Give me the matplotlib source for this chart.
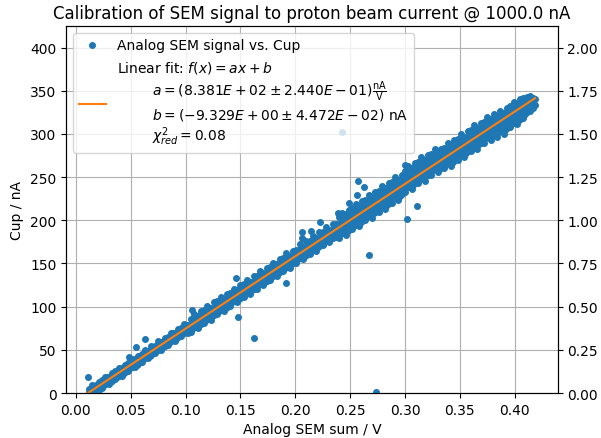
import matplotlib.pyplot as plt
import numpy as np

# ----------------------------------------------------------------------------
# DATA

# SEM signal (V) for each column of the dense band
sem_v = [0.012, 0.015, 0.018, 0.021, 0.024, 0.027, 0.030, 0.033, 0.036, 0.039,
         0.042, 0.045, 0.048, 0.051, 0.054, 0.057, 0.060, 0.063, 0.066, 0.069,
         0.072, 0.075, 0.078, 0.081, 0.084, 0.087, 0.090, 0.093, 0.096, 0.099,
         0.102, 0.105, 0.108, 0.111, 0.114, 0.117, 0.120, 0.123, 0.126, 0.129,
         0.132, 0.135, 0.138, 0.141, 0.144, 0.147, 0.150, 0.153, 0.156, 0.159,
         0.162, 0.165, 0.168, 0.171, 0.174, 0.177, 0.180, 0.183, 0.186, 0.189,
         0.192, 0.195, 0.198, 0.201, 0.204, 0.207, 0.210, 0.213, 0.216, 0.219,
         0.222, 0.225, 0.228, 0.231, 0.234, 0.237, 0.240, 0.243, 0.246, 0.249,
         0.252, 0.255, 0.258, 0.261, 0.264, 0.267, 0.270, 0.273, 0.276, 0.279,
         0.282, 0.285, 0.288, 0.291, 0.294, 0.297, 0.300, 0.303, 0.306, 0.309,
         0.312, 0.315, 0.318, 0.321, 0.324, 0.327, 0.330, 0.333, 0.336, 0.339,
         0.342, 0.345, 0.348, 0.351, 0.354, 0.357, 0.360, 0.363, 0.366, 0.369,
         0.372, 0.375, 0.378, 0.381, 0.384, 0.387, 0.390, 0.393, 0.396, 0.399,
         0.402, 0.405, 0.408, 0.411, 0.414, 0.417]

# Cup current (nA) measured at each of those SEM values
cup_na = [[-2, 1, 5], [0, 5, 9], [0, 5, 9], [4, 9, 13], [6, 11, 15],
          [10, 15, 19], [10, 15, 19], [14, 19, 23], [16, 21, 25], [20, 25, 29],
          [20, 25, 29], [24, 29, 33], [26, 31, 35], [30, 35, 39], [30, 35, 39],
          [34, 39, 43], [36, 41, 45], [40, 45, 50], [40, 45, 49], [44, 50, 54],
          [46, 51, 55], [50, 55, 60], [50, 55, 59], [55, 60, 64], [56, 61, 65],
          [60, 66, 70], [60, 65, 69], [65, 70, 74], [66, 71, 75], [70, 76, 80],
          [70, 75, 79], [71, 78, 86], [76, 83, 91], [75, 81, 89], [80, 87, 95],
          [81, 88, 96], [86, 93, 101], [85, 91, 99], [90, 97, 105], [91, 98, 106],
          [96, 103, 111], [95, 101, 109], [100, 107, 115], [101, 108, 116], [106, 113, 121],
          [105, 111, 119], [110, 117, 125], [111, 118, 126], [116, 123, 131], [115, 121, 129],
          [120, 127, 135], [121, 128, 136], [126, 133, 141], [125, 131, 139], [130, 137, 145],
          [131, 138, 146], [136, 143, 151], [135, 141, 149], [140, 147, 155], [141, 148, 156],
          [147, 154, 162], [145, 151, 159], [150, 157, 165], [151, 158, 166], [157, 164, 172],
          [155, 161, 169], [160, 168, 176], [161, 168, 176], [167, 174, 182], [165, 171, 179],
          [170, 178, 186], [171, 178, 186], [177, 184, 192], [175, 181, 189], [180, 188, 196],
          [181, 188, 196], [180, 188, 196, 204], [185, 193, 201, 209], [183, 191, 199, 207],
          [189, 197, 205, 212], [190, 198, 206, 214], [195, 203, 211, 219], [193, 201, 209, 217],
          [199, 207, 215, 222], [200, 208, 216, 224], [205, 213, 221, 229], [203, 211, 219, 227],
          [210, 218, 226, 233], [210, 218, 226, 234], [216, 224, 232, 240], [213, 221, 229, 237],
          [220, 228, 236, 243], [220, 228, 236, 244], [226, 234, 242, 250], [223, 231, 239, 247],
          [230, 238, 246, 253], [233, 241, 249, 257], [239, 247, 255, 263], [236, 244, 252, 260],
          [243, 251, 259, 266], [243, 251, 259, 267], [249, 257, 265, 273], [246, 254, 262, 270],
          [253, 261, 269, 276], [253, 261, 269, 277], [259, 267, 275, 283], [256, 264, 272, 280],
          [260, 268, 276, 283], [260, 268, 276, 284], [266, 274, 282, 290], [263, 271, 279, 287],
          [270, 278, 286, 293], [270, 278, 286, 294], [276, 284, 292, 300], [273, 281, 289, 297],
          [280, 288, 296, 303], [280, 288, 296, 304], [286, 294, 302, 310], [283, 291, 299, 307],
          [290, 298, 306, 313], [290, 298, 306, 314], [296, 304, 312, 320], [293, 301, 309, 317],
          [300, 308, 316, 323], [297, 305, 313, 321], [303, 311, 319, 327], [300, 308, 316, 324],
          [307, 315, 323, 330], [308, 316, 324, 332], [313, 321, 329, 337], [311, 319, 327, 335],
          [317, 325, 333, 340], [318, 326, 334, 342], [325, 331, 337, 343], [326, 333, 339, 344],
          [330, 336, 342]]

# second pass of readings, half a column to the right of the first
sem_v_b = [0.0135, 0.0165, 0.0195, 0.0225, 0.0255, 0.0285, 0.0315, 0.0345, 0.0375, 0.0405,
           0.0435, 0.0465, 0.0495, 0.0525, 0.0555, 0.0585, 0.0615, 0.0645, 0.0675, 0.0705,
           0.0735, 0.0765, 0.0795, 0.0825, 0.0855, 0.0885, 0.0915, 0.0945, 0.0975, 0.1005,
           0.1035, 0.1065, 0.1095, 0.1125, 0.1155, 0.1185, 0.1215, 0.1245, 0.1275, 0.1305,
           0.1335, 0.1365, 0.1395, 0.1425, 0.1455, 0.1485, 0.1515, 0.1545, 0.1575, 0.1605,
           0.1635, 0.1665, 0.1695, 0.1725, 0.1755, 0.1785, 0.1815, 0.1845, 0.1875, 0.1905,
           0.1935, 0.1965, 0.1995, 0.2025, 0.2055, 0.2085, 0.2115, 0.2145, 0.2175, 0.2205,
           0.2235, 0.2265, 0.2295, 0.2325, 0.2355, 0.2385, 0.2415, 0.2445, 0.2475, 0.2505,
           0.2535, 0.2565, 0.2595, 0.2625, 0.2655, 0.2685, 0.2715, 0.2745, 0.2775, 0.2805,
           0.2835, 0.2865, 0.2895, 0.2925, 0.2955, 0.2985, 0.3015, 0.3045, 0.3075, 0.3105,
           0.3135, 0.3165, 0.3195, 0.3225, 0.3255, 0.3285, 0.3315, 0.3345, 0.3375, 0.3405,
           0.3435, 0.3465, 0.3495, 0.3525, 0.3555, 0.3585, 0.3615, 0.3645, 0.3675, 0.3705,
           0.3735, 0.3765, 0.3795, 0.3825, 0.3855, 0.3885, 0.3915, 0.3945, 0.3975, 0.4005,
           0.4035, 0.4065, 0.4095, 0.4125, 0.4155, 0.4185]

cup_na_b = [[0, 4], [3, 8], [3, 8], [7, 12], [9, 14], [13, 18], [13, 18], [17, 22],
            [19, 24], [23, 28], [23, 28], [27, 32], [29, 34], [33, 38], [33, 38], [37, 42],
            [39, 44], [43, 48], [43, 48], [48, 53], [49, 54], [53, 58], [53, 58], [58, 63],
            [59, 64], [64, 69], [63, 68], [68, 73], [69, 74], [74, 79], [73, 78],
            [75, 83], [80, 88], [79, 86], [84, 92], [85, 93], [90, 98], [89, 96], [94, 102],
            [95, 103], [100, 108], [99, 106], [104, 112], [105, 113], [110, 118], [109, 116],
            [114, 122], [115, 123], [120, 128], [119, 126], [124, 132], [125, 133], [130, 138],
            [129, 136], [134, 142], [135, 143], [140, 148], [139, 146], [144, 152], [145, 153],
            [151, 159], [149, 156], [154, 162], [155, 163], [161, 169], [159, 166], [165, 173],
            [165, 173], [171, 179], [169, 176], [175, 183], [175, 183], [181, 189], [179, 186],
            [185, 193], [185, 193],
            [185, 193, 201], [190, 198, 206], [188, 196, 204], [194, 202, 210], [195, 203, 211],
            [200, 208, 216], [198, 206, 214], [204, 212, 220], [205, 213, 221], [210, 218, 226],
            [208, 216, 224], [215, 223, 231], [215, 223, 231], [221, 229, 237], [218, 226, 234],
            [225, 233, 241], [225, 233, 241], [231, 239, 247], [228, 236, 244], [235, 243, 251],
            [238, 246, 254], [244, 252, 260], [241, 249, 257], [248, 256, 264], [248, 256, 264],
            [254, 262, 270], [251, 259, 267], [258, 266, 274], [258, 266, 274], [264, 272, 280],
            [261, 269, 277], [265, 273, 281], [265, 273, 281], [271, 279, 287], [268, 276, 284],
            [275, 283, 291], [275, 283, 291], [281, 289, 297], [278, 286, 294], [285, 293, 301],
            [285, 293, 301], [291, 299, 307], [288, 296, 304], [295, 303, 311], [295, 303, 311],
            [301, 309, 317], [298, 306, 314], [305, 313, 321], [302, 310, 318], [308, 316, 324],
            [305, 313, 321], [312, 320, 328], [313, 321, 329], [318, 326, 334], [316, 324, 332],
            [322, 330, 338], [323, 331, 339], [329, 335, 341], [331, 337, 342], [334, 340]]

# stray points away from the band
stray_v = [0.0114, 0.0485, 0.055, 0.0627, 0.106, 0.146, 0.1477, 0.162, 0.1915,
           0.2058, 0.2064, 0.2148, 0.2224, 0.239, 0.2429, 0.249, 0.2564, 0.257,
           0.263, 0.267, 0.2735, 0.2998, 0.3023, 0.3113]
stray_na = [18, 42, 53, 63, 96, 133, 88, 64, 127,
            179, 187, 188, 198, 208, 302, 220, 229, 245,
            239, 160, 1, 264, 202, 217]

# fit results
a_fit, a_err = 8.381e+02, 2.440e-01
b_fit, b_err = -9.329e+00, 4.472e-02
chi2_red = 0.08

# ----------------------------------------------------------------------------
# SET UP THE VALUES TO PLOT

x = ([v for v, col in zip(sem_v, cup_na) for _ in col]
     + [v for v, col in zip(sem_v_b, cup_na_b) for _ in col] + stray_v)
y = ([c for col in cup_na for c in col]
     + [c for col in cup_na_b for c in col] + stray_na)
x = np.array(x)
y = np.array(y)

xfit = np.array([x.min(), x.max()])
yfit = a_fit * xfit + b_fit

fit_label = ('Linear fit: $f(x) = ax + b$\n'
             '        $a = (%.3E \\pm %.3E)\\frac{\\mathrm{nA}}{\\mathrm{V}}$\n'
             '        $b = (%.3E \\pm %.3E)$ nA\n'
             '        $\\chi^2_{red} = %.2f$') % (a_fit, a_err, b_fit, b_err, chi2_red)

# ----------------------------------------------------------------------------
# PLOT

fig = plt.figure(figsize=(6.01, 4.39), dpi=100)
ax = fig.add_subplot(111)
plt.subplots_adjust(left=0.11, right=0.928, bottom=0.1025, top=0.9385)

ax2 = ax.twinx()
ax2.set_ylim(0, 425 / 200.)

# keep the data axes (and its legend) above the twin axes
ax.set_zorder(ax2.get_zorder() + 1)
ax.patch.set_visible(False)

ax.plot(x, y, 'o', color='C0', ms=4, label='Analog SEM signal vs. Cup')
ax.plot(xfit, yfit, '-', color='C1', lw=1.5, label=fit_label)

ax.set_title('Calibration of SEM signal to proton beam current @ 1000.0 nA', fontsize=12)
ax.set_xlabel('Analog SEM sum / V')
ax.set_ylabel('Cup / nA')
ax.set_xlim(-0.0088, 0.4392)
ax.set_ylim(0, 425)
ax.grid(True)
ax.legend(loc='upper left')

fig.savefig('out.png', dpi=100)
